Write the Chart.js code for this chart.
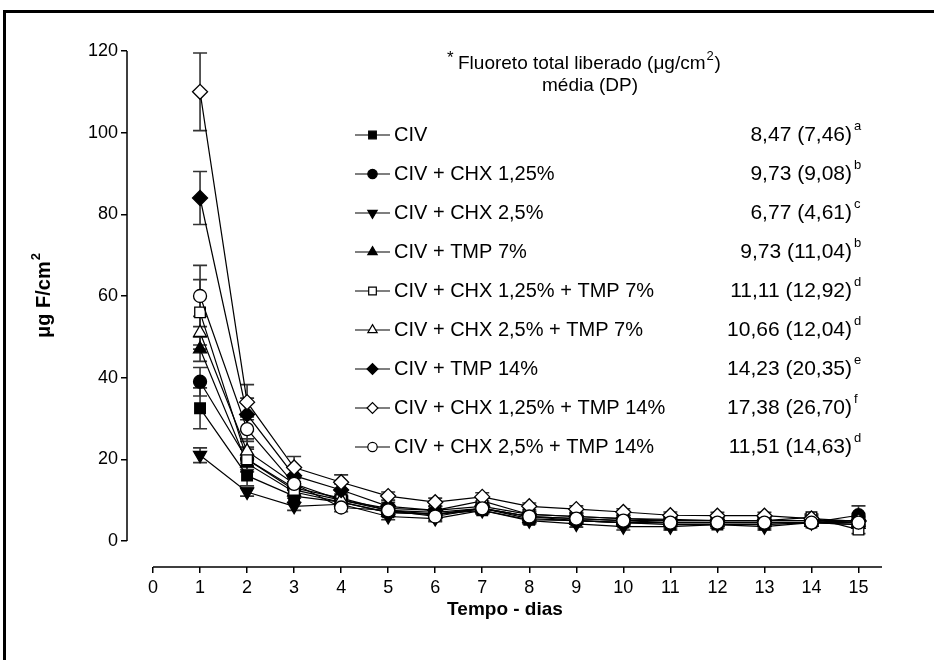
<!DOCTYPE html>
<html>
<head>
<meta charset="utf-8">
<script src="https://cdn.jsdelivr.net/npm/chart.js@4.4.0/dist/chart.umd.min.js"></script>
<style>
  html, body { margin: 0; padding: 0; background: #fff; }
  #wrap { width: 934px; height: 660px; }
</style>
</head>
<body>
<div id="wrap"><canvas id="fluorChart" width="934" height="660"></canvas></div>
<script>
// dias de coleta
var days = [1, 2, 3, 4, 5, 6, 7, 8, 9, 10, 11, 12, 13, 14, 15];
var xTicks = [0, 1, 2, 3, 4, 5, 6, 7, 8, 9, 10, 11, 12, 13, 14, 15];
var yTicks = [0, 20, 40, 60, 80, 100, 120];

var seriesNames = [
    "CIV",
    "CIV + CHX 1,25%",
    "CIV + CHX 2,5%",
    "CIV + TMP 7%",
    "CIV + CHX 1,25% + TMP 7%",
    "CIV + CHX 2,5% + TMP 7%",
    "CIV + TMP 14%",
    "CIV + CHX 1,25% + TMP 14%",
    "CIV + CHX 2,5% + TMP 14%"
];

// media e desvio por dia
var civ        = [32.5, 16, 11, 9.5, 7, 6.5, 7.5, 5.2, 5, 4.5, 4, 4, 4, 4.5, 5];
var civSd      = [5, 2.5, 1.5, 1, 1, 1, 0.8, 0.8, 0.8, 0.8, 0.8, 0.8, 0.8, 0.8, 1];
var chx125     = [39, 20, 13, 10.5, 7.5, 6.5, 8, 6, 5, 4.5, 4.5, 4.5, 4.5, 4.5, 6.3];
var chx125Sd   = [3.5, 3, 1.5, 1, 1, 1, 1, 0.8, 0.8, 0.8, 0.8, 0.8, 0.8, 0.8, 2.3];
var chx25      = [21, 12, 8.5, 9, 6, 5.5, 7.5, 5, 4.2, 3.5, 3.5, 4, 3.5, 4.5, 4];
var chx25Sd    = [1.8, 1, 1, 1, 0.8, 0.8, 0.8, 0.8, 0.8, 0.8, 0.8, 0.8, 0.8, 0.8, 0.8];
var tmp7       = [47, 19, 12, 9.5, 7, 6.5, 8, 5.5, 5, 4.5, 4.5, 4.5, 4.5, 4.5, 4];
var tmp7Sd     = [3, 2, 1.5, 1, 1, 1, 1, 0.8, 0.8, 0.8, 0.8, 0.8, 0.8, 0.8, 0.8];
var chx125tmp7   = [56, 20, 12.5, 10, 8, 7.5, 9.8, 6.5, 6, 5.5, 5.3, 5, 5, 5.8, 2.8];
var chx125tmp7Sd = [8, 2.5, 1.5, 1, 1, 1, 1, 0.8, 0.8, 0.8, 0.8, 0.8, 0.8, 0.8, 1];
var chx25tmp7    = [51, 22, 14, 10, 7.5, 7, 8, 6, 5.5, 5, 5, 5, 5, 5, 4.5];
var chx25tmp7Sd  = [4, 3, 1.5, 1, 1, 1, 1, 0.8, 0.8, 0.8, 0.8, 0.8, 0.8, 0.8, 0.8];
var tmp14      = [84, 31, 16, 12.5, 8.5, 7.5, 8.5, 6.5, 6, 5.5, 5, 5, 5, 5, 5];
var tmp14Sd    = [6.5, 4, 2, 1.5, 1, 1, 1, 0.8, 0.8, 0.8, 0.8, 0.8, 0.8, 0.8, 0.8];
var chx125tmp14   = [110, 34, 18, 14.4, 11, 9.5, 10.8, 8.5, 7.8, 7.1, 6.3, 6.2, 6.2, 5.5, 4.8];
var chx125tmp14Sd = [9.5, 4.3, 2.7, 1.8, 1, 1, 1, 0.8, 0.8, 0.8, 0.8, 0.8, 0.8, 0.8, 0.8];
var chx25tmp14    = [60, 27.4, 14, 8.2, 7.5, 6, 8, 6, 5.5, 5, 4.5, 4.5, 4.5, 4.5, 4.5];
var chx25tmp14Sd  = [7.5, 3, 1.5, 1, 1, 1, 1, 0.8, 0.8, 0.8, 0.8, 0.8, 0.8, 0.8, 0.8];

var totalMean = ["8,47", "9,73", "6,77", "9,73", "11,11", "10,66", "14,23", "17,38", "11,51"];
var totalSd   = ["7,46", "9,08", "4,61", "11,04", "12,92", "12,04", "20,35", "26,70", "14,63"];
var totalLetter = ["a", "b", "c", "b", "d", "d", "e", "f", "d"];

var means = [civ, chx125, chx25, tmp7, chx125tmp7, chx25tmp7, tmp14, chx125tmp14, chx25tmp14];
var sds = [civSd, chx125Sd, chx25Sd, tmp7Sd, chx125tmp7Sd, chx25tmp7Sd, tmp14Sd, chx125tmp14Sd, chx25tmp14Sd];

// marcador de cada grupo
var styles = [
    { pointStyle: "rect", fill: true, rot: 0, r: 7.5 },
    { pointStyle: "circle", fill: true, rot: 0, r: 6.5 },
    { pointStyle: "triangle", fill: true, rot: 180, r: 7.5 },
    { pointStyle: "triangle", fill: true, rot: 0, r: 7.5 },
    { pointStyle: "rect", fill: false, rot: 0, r: 7.5 },
    { pointStyle: "triangle", fill: false, rot: 0, r: 7.5 },
    { pointStyle: "rectRot", fill: true, rot: 0, r: 7.5 },
    { pointStyle: "rectRot", fill: false, rot: 0, r: 7.5 },
    { pointStyle: "circle", fill: false, rot: 0, r: 6.5 }
];

var FONT = "'Liberation Sans', Arial, sans-serif";
Chart.defaults.font.family = FONT;
Chart.defaults.color = "#000";

var datasets = [];
means.forEach(function(serie, i) {
    var st = styles[i];
    datasets.push({
        label: seriesNames[i],
        data: days.map(function(d, j) { return { x: d, y: serie[j] }; }),
        borderColor: "#000",
        borderWidth: 1.2,
        backgroundColor: st.fill ? "#000" : "#fff",
        pointStyle: st.pointStyle,
        pointRotation: st.rot,
        pointRadius: st.r,
        pointBorderWidth: 1.3,
        pointBorderColor: "#000",
        pointBackgroundColor: st.fill ? "#000" : "#fff",
        tension: 0,
        order: 9 - i
    });
});

var figurePlugin = {
    id: "figurePlugin",
    beforeDraw: function(chart) {
        var ctx = chart.ctx;
        ctx.save();
        ctx.fillStyle = "#fff";
        ctx.fillRect(0, 0, chart.width, chart.height);
        ctx.restore();
    },
    beforeDatasetsDraw: function(chart) {
        var ctx = chart.ctx;
        var xs = chart.scales.x, ys = chart.scales.y;
        ctx.save();
        ctx.strokeStyle = "#000";
        ctx.lineWidth = 1.5;
        // eixos
        ctx.beginPath();
        ctx.moveTo(xs.left, ys.getPixelForValue(0));
        ctx.lineTo(xs.left, ys.getPixelForValue(120));
        ctx.moveTo(xs.getPixelForValue(0), ys.bottom);
        ctx.lineTo(xs.right, ys.bottom);
        ctx.stroke();
        // barras de erro
        ctx.strokeStyle = "#333";
        ctx.lineWidth = 1.6;
        means.forEach(function(serie, i) {
            serie.forEach(function(m, j) {
                var x = xs.getPixelForValue(days[j]);
                var top = ys.getPixelForValue(m + sds[i][j]);
                var bot = ys.getPixelForValue(m - sds[i][j]);
                ctx.beginPath();
                ctx.moveTo(x, top); ctx.lineTo(x, bot);
                ctx.moveTo(x - 7, top); ctx.lineTo(x + 7, top);
                ctx.moveTo(x - 7, bot); ctx.lineTo(x + 7, bot);
                ctx.stroke();
            });
        });
        ctx.restore();
    },
    afterDraw: function(chart) {
        var ctx = chart.ctx;
        ctx.save();
        // moldura
        ctx.strokeStyle = "#000";
        ctx.lineWidth = 3;
        ctx.beginPath();
        ctx.moveTo(4.5, chart.height);
        ctx.lineTo(4.5, 11.5);
        ctx.lineTo(chart.width, 11.5);
        ctx.stroke();

        ctx.fillStyle = "#000";
        ctx.textBaseline = "middle";

        // titulo do eixo y
        ctx.save();
        ctx.translate(44, 296);
        ctx.rotate(-Math.PI / 2);
        ctx.font = "bold 20px " + FONT;
        ctx.textAlign = "left";
        var yt = "\u03bcg F/cm";
        var w1 = ctx.measureText(yt).width;
        ctx.font = "bold 13px " + FONT;
        var w2 = ctx.measureText("2").width;
        var start = -(w1 + w2) / 2;
        ctx.font = "bold 20px " + FONT;
        ctx.fillText(yt, start, 0);
        ctx.font = "bold 13px " + FONT;
        ctx.fillText("2", start + w1 + 1, -8);
        ctx.restore();

        // titulo do eixo x
        ctx.font = "bold 19px " + FONT;
        ctx.textAlign = "center";
        ctx.fillText("Tempo - dias", 505, 610);

        // cabecalho
        ctx.textAlign = "left";
        ctx.font = "17px " + FONT;
        ctx.fillText("*", 447, 58);
        ctx.font = "19px " + FONT;
        var h1 = "Fluoreto total liberado (\u03bcg/cm";
        ctx.fillText(h1, 458, 64);
        var hw = ctx.measureText(h1).width;
        ctx.font = "13px " + FONT;
        ctx.fillText("2", 458 + hw + 1, 56);
        ctx.font = "19px " + FONT;
        ctx.fillText(")", 458 + hw + 9, 64);
        ctx.fillText("m\u00e9dia (DP)", 542, 86);

        // legenda
        seriesNames.forEach(function(name, i) {
            var y = 135 + i * 39;
            var st = styles[i];
            ctx.strokeStyle = "#000";
            ctx.lineWidth = 1.2;
            ctx.beginPath();
            ctx.moveTo(355, y); ctx.lineTo(390, y);
            ctx.stroke();
            ctx.fillStyle = st.fill ? "#000" : "#fff";
            ctx.lineWidth = 1.2;
            Chart.helpers.drawPoint(ctx, {
                pointStyle: st.pointStyle, rotation: st.rot,
                radius: st.r * 0.72, borderWidth: 1.2
            }, 372.5, y);
            ctx.fillStyle = "#000";
            ctx.font = "20px " + FONT;
            ctx.textAlign = "left";
            ctx.fillText(name, 394, y);
            ctx.font = "21px " + FONT;
            ctx.textAlign = "right";
            ctx.fillText(totalMean[i] + " (" + totalSd[i] + ")", 852, y);
            ctx.textAlign = "left";
            ctx.font = "13px " + FONT;
            ctx.fillText(totalLetter[i], 854, y - 9);
        });
        ctx.restore();
    }
};

new Chart(document.getElementById("fluorChart"), {
    type: "line",
    data: { datasets: datasets },
    options: {
        responsive: false,
        animation: false,
        layout: { padding: { left: 0, top: 51, right: 52, bottom: 53 } },
        plugins: { legend: { display: false }, tooltip: { enabled: false } },
        scales: {
            x: {
                type: "linear",
                min: -26 / 47,
                max: 15.5,
                afterBuildTicks: function(s) { s.ticks = xTicks.map(function(v) { return { value: v }; }); },
                afterFit: function(s) { s.height = 40; },
                border: { display: false },
                grid: { drawOnChartArea: false, drawTicks: true, tickLength: 6, color: "#000", lineWidth: 1.5 },
                ticks: { autoSkip: false, maxRotation: 0, padding: 4, font: { size: 18 }, color: "#000" }
            },
            y: {
                type: "linear",
                min: -26 / 4.083,
                max: 120,
                afterBuildTicks: function(s) { s.ticks = yTicks.map(function(v) { return { value: v }; }); },
                afterFit: function(s) { s.width = 127; },
                border: { display: false },
                grid: { drawOnChartArea: false, drawTicks: true, tickLength: 6, color: "#000", lineWidth: 1.5 },
                ticks: { padding: 3, font: { size: 18 }, color: "#000" }
            }
        }
    },
    plugins: [figurePlugin]
});
</script>
</body>
</html>
